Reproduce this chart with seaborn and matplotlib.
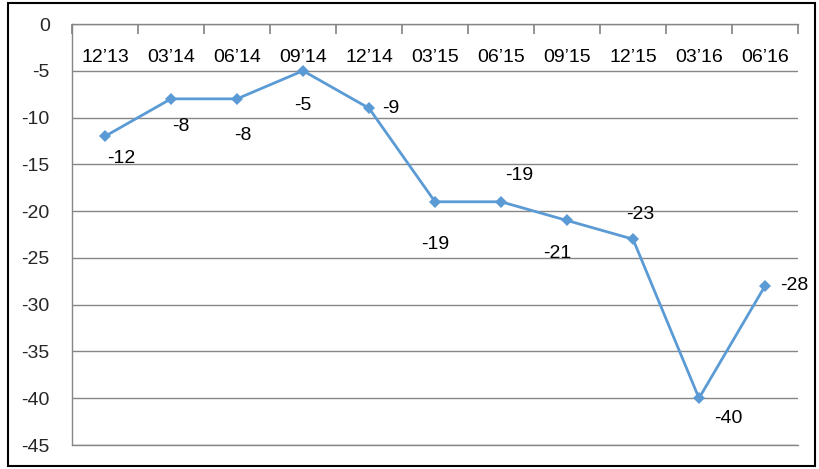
import numpy as np
import pandas as pd
import matplotlib
matplotlib.use("Agg")
import matplotlib.pyplot as plt
import seaborn as sns

# Datos
periodos = ["12’13", "03’14", "06’14", "09’14", "12’14", "03’15",
            "06’15", "09’15", "12’15", "03’16", "06’16"]
valores = [-12, -8, -8, -5, -9, -19, -19, -21, -23, -40, -28]
# desplazamiento de las etiquetas (px) respecto al punto
offsets = [(16, -22), (10, -28), (6, -37), (0, -35), (22, 0), (0, -43),
           (18, 26), (-10, -33), (7, 25), (29, -20), (29, 0)]

df = pd.DataFrame({"x": np.arange(len(periodos)), "valor": valores})

sns.set_theme(style="white")
plt.rcParams["font.family"] = ["Liberation Sans", "DejaVu Sans"]

fig = plt.figure(figsize=(8.19, 4.69), dpi=100)
ax = fig.add_axes([72 / 819, 1 - 445 / 469, (798 - 72) / 819, (445 - 24) / 469])

sns.lineplot(data=df, x="x", y="valor", ax=ax, color="#5B9BD5", linewidth=2,
             marker="D", markersize=6, markeredgewidth=0, zorder=3)

ax.set_xlim(-0.5, len(periodos) - 0.5)
ax.set_ylim(-45, 0)
ax.set_yticks(np.arange(-45, 1, 5))
ax.set_yticklabels([str(v) for v in range(-45, 1, 5)], fontsize=14)
ax.yaxis.grid(True, color="#868686", linewidth=1)
ax.axhline(-45, color="#868686", linewidth=1, clip_on=False)
ax.set_xlabel("")
ax.set_ylabel("")

# eje de categorías en y=0 (arriba)
ax.xaxis.tick_top()
ax.set_xticks(np.arange(-0.5, len(periodos), 1))
ax.tick_params(axis="x", direction="in", length=7, color="#868686",
               labeltop=False, labelbottom=False, top=True, bottom=False)
ax.tick_params(axis="y", length=0, pad=16)

for s in ["right", "bottom"]:
    ax.spines[s].set_visible(False)
for s in ["left", "top"]:
    ax.spines[s].set_color("#868686")
    ax.spines[s].set_linewidth(1)

for i, p in enumerate(periodos):
    ax.text(i, -3.6, p, ha="center", va="center", fontsize=14, color="black")

for i, (v, (dx, dy)) in enumerate(zip(valores, offsets)):
    ax.annotate(str(v), (i, v), xytext=(dx, dy), textcoords="offset pixels",
                ha="center", va="center", fontsize=14, color="black")

# marco exterior
fig.patches.append(plt.Rectangle((8 / 819, 3 / 469), 807 / 819, 463 / 469,
                                 transform=fig.transFigure, fill=False,
                                 edgecolor="black", linewidth=1.5))

fig.savefig("out.png", dpi=100)
